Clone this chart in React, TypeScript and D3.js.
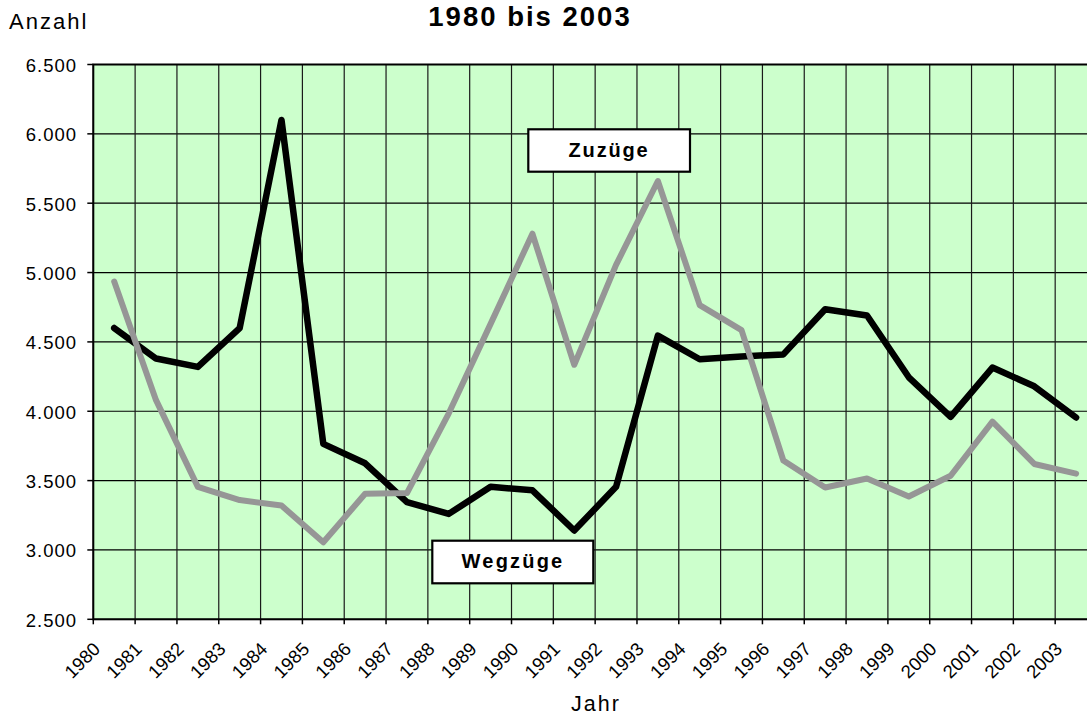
import React from "react";
import * as d3 from "d3";

const years = ["1980","1981","1982","1983","1984","1985","1986","1987","1988","1989","1990","1991","1992","1993","1994","1995","1996","1997","1998","1999","2000","2001","2002","2003"];
const wegzuege = [4600, 4380, 4320, 4600, 6100, 3765, 3625, 3345, 3260, 3455, 3430, 3140, 3455, 4545, 4375, 4395, 4410, 4735, 4690, 4245, 3960, 4315, 4180, 3955];
const zuzuege = [4935, 4080, 3455, 3360, 3320, 3055, 3405, 3410, 3985, 4630, 5280, 4335, 5055, 5660, 4765, 4585, 3645, 3450, 3515, 3385, 3535, 3925, 3620, 3550];
const yTicks = [2500, 3000, 3500, 4000, 4500, 5000, 5500, 6000, 6500];

const W = 1087;
const H = 715;
const FONT = "'Liberation Sans', Arial, sans-serif";

const de = d3.formatLocale({ decimal: ",", thousands: ".", grouping: [3], currency: ["", "€"] });
const fmt = de.format(",.0f");

export default function App() {
  const left = 93.3, right = 1097, top = 64.5, bottom = 619.3;
  const x = d3.scaleBand<string>().domain(years).range([left, right]);
  const y = d3.scaleLinear().domain([2500, 6500]).range([bottom, top]);
  const cx = (i: number) => (x(years[i]) as number) + x.bandwidth() / 2;
  const line = d3.line<number>().x((_, i) => cx(i)).y((d) => y(d));

  return (
    <svg width={W} height={H} style={{ position: "absolute", left: 0, top: 0, background: "#fff" }} fontFamily={FONT}>
      <rect x={left} y={top} width={right - left} height={bottom - top} fill="#CCFFCC" />
      {yTicks.map((t) => (
        <line key={"gy" + t} x1={left} x2={right} y1={y(t)} y2={y(t)} stroke="#000" strokeWidth={1.2} />
      ))}
      {years.map((yr) => (
        <line key={"gx" + yr} x1={x(yr) as number} x2={x(yr) as number} y1={top} y2={bottom} stroke="#1a1a1a" strokeWidth={1.2} />
      ))}
      <rect x={left} y={top} width={right - left} height={bottom - top} fill="none" stroke="#000" strokeWidth={2} />
      {yTicks.map((t) => (
        <g key={"ty" + t}>
          <line x1={left - 6} x2={left} y1={y(t)} y2={y(t)} stroke="#000" strokeWidth={1.5} />
          <text x={77} y={y(t) + 7.4} textAnchor="end" fontSize={18.5} letterSpacing={1} fill="#000">{fmt(t)}</text>
        </g>
      ))}
      {years.map((yr) => {
        const tx = x(yr) as number;
        return (
          <g key={"tx" + yr}>
            <line x1={tx} x2={tx} y1={bottom} y2={bottom + 5} stroke="#000" strokeWidth={1.5} />
            <text transform={`translate(${tx + 8},${bottom + 31}) rotate(-45)`} textAnchor="end" fontSize={18.5} fill="#000">{yr}</text>
          </g>
        );
      })}
      <path d={line(wegzuege) as string} fill="none" stroke="#000" strokeWidth={6.5} strokeLinejoin="round" strokeLinecap="round" />
      <path d={line(zuzuege) as string} fill="none" stroke="#969696" strokeWidth={6} strokeLinejoin="round" strokeLinecap="round" />

      <rect x={528.3} y={129.3} width={161.7} height={42.4} fill="#fff" stroke="#000" strokeWidth={2.2} />
      <text x={609} y={157} textAnchor="middle" fontSize={20} fontWeight="bold" letterSpacing={1.8} fill="#000">Zuzüge</text>
      <rect x={432.3} y={540.7} width={161} height={42.6} fill="#fff" stroke="#000" strokeWidth={2.2} />
      <text x={513} y={567.5} textAnchor="middle" fontSize={20} fontWeight="bold" letterSpacing={2.2} fill="#000">Wegzüge</text>

      <text x={530} y={26} textAnchor="middle" fontSize={27.5} fontWeight="bold" letterSpacing={2} fill="#000">1980 bis 2003</text>
      <text x={9} y={29.3} fontSize={22} letterSpacing={2} fill="#000">Anzahl</text>
      <text x={596} y={711} textAnchor="middle" fontSize={21.5} letterSpacing={2} fill="#000">Jahr</text>
    </svg>
  );
}
